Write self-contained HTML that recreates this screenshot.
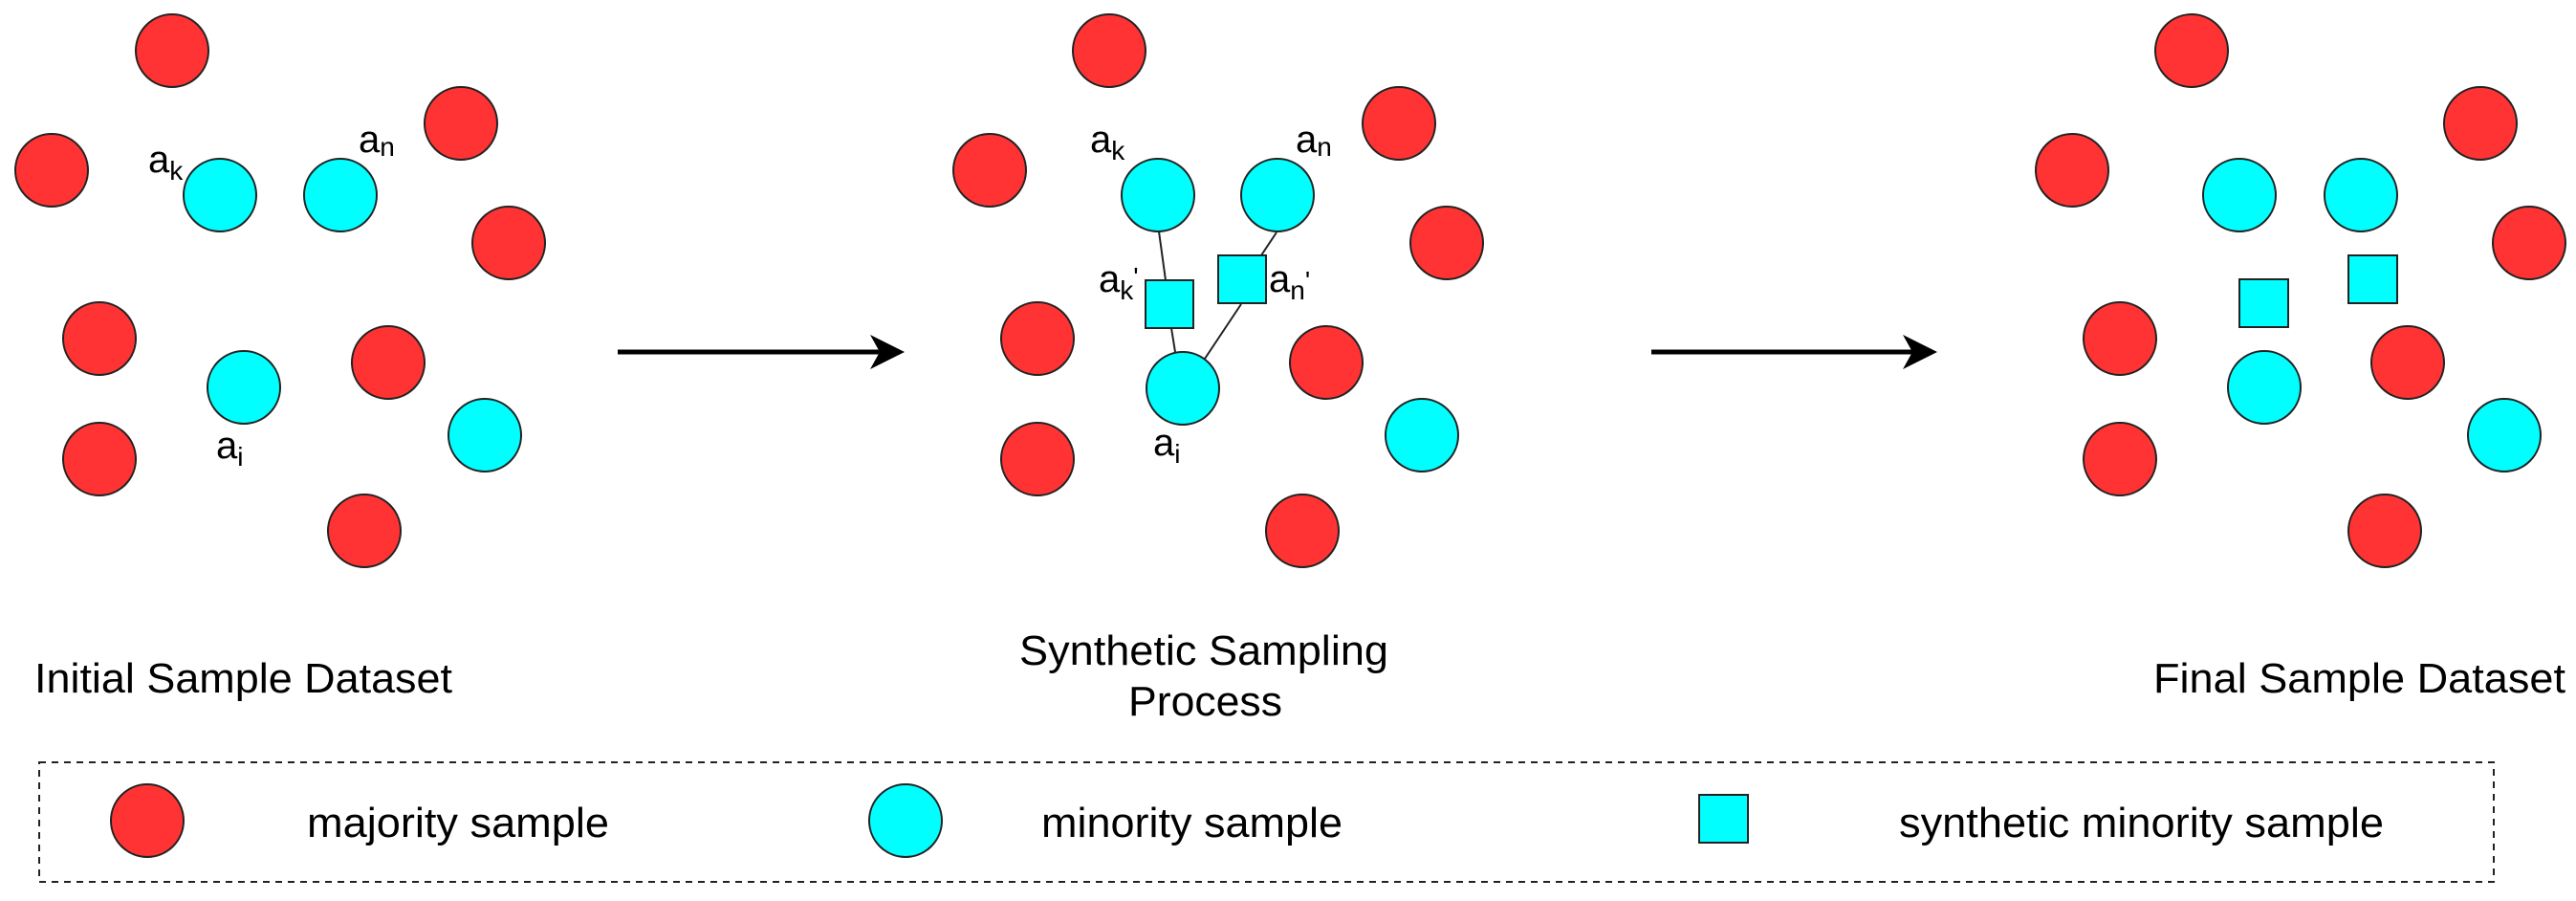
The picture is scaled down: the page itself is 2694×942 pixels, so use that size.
<!DOCTYPE html>
<html><head><meta charset="utf-8"><style>html,body{margin:0;padding:0;background:#fff}svg{display:block}</style></head>
<body>
<svg width="2694" height="942" viewBox="0 0 2694 942" xmlns="http://www.w3.org/2000/svg" font-family="Liberation Sans, Arial, sans-serif" fill="#000">
<g stroke="#222" stroke-width="2">
<!-- panel 1 -->
<g fill="#ff3333">
<circle cx="180" cy="53" r="38"/><circle cx="54" cy="178" r="38"/><circle cx="482" cy="129" r="38"/><circle cx="532" cy="254" r="38"/>
<circle cx="104" cy="354" r="38"/><circle cx="406" cy="379" r="38"/><circle cx="104" cy="480" r="38"/><circle cx="381" cy="555" r="38"/>
</g>
<g fill="#00ffff">
<circle cx="230" cy="204" r="38"/><circle cx="356" cy="204" r="38"/><circle cx="255" cy="405" r="38"/><circle cx="507" cy="455" r="38"/>
</g>
<!-- panel 2 -->
<line x1="1212" y1="242" x2="1219" y2="293"/><line x1="1225" y1="343" x2="1229" y2="368"/>
<line x1="1335" y1="243" x2="1319" y2="267"/><line x1="1298" y1="318" x2="1260" y2="375"/>
<g fill="#ff3333">
<circle cx="1160" cy="53" r="38"/><circle cx="1035" cy="178" r="38"/><circle cx="1463" cy="129" r="38"/><circle cx="1513" cy="254" r="38"/>
<circle cx="1085" cy="354" r="38"/><circle cx="1387" cy="379" r="38"/><circle cx="1085" cy="480" r="38"/><circle cx="1362" cy="555" r="38"/>
</g>
<g fill="#00ffff">
<circle cx="1211" cy="204" r="38"/><circle cx="1336" cy="204" r="38"/><circle cx="1237" cy="406" r="38"/><circle cx="1487" cy="455" r="38"/>
<rect x="1198" y="293" width="50" height="50"/><rect x="1274" y="267" width="50" height="50"/>
</g>
<!-- panel 3 -->
<g fill="#ff3333">
<circle cx="2292" cy="53" r="38"/><circle cx="2167" cy="178" r="38"/><circle cx="2594" cy="129" r="38"/><circle cx="2645" cy="254" r="38"/>
<circle cx="2217" cy="354" r="38"/><circle cx="2518" cy="379" r="38"/><circle cx="2217" cy="480" r="38"/><circle cx="2494" cy="555" r="38"/>
</g>
<g fill="#00ffff">
<circle cx="2342" cy="204" r="38"/><circle cx="2469" cy="204" r="38"/><circle cx="2368" cy="405" r="38"/><circle cx="2619" cy="455" r="38"/>
<rect x="2342" y="292" width="51" height="50"/><rect x="2456" y="267" width="51" height="50"/>
</g>
<!-- legend -->
<circle cx="154" cy="858" r="38" fill="#ff3333"/>
<circle cx="947" cy="858" r="38" fill="#00ffff"/>
<rect x="1777" y="831" width="51" height="50" fill="#00ffff"/>
</g>
<rect x="41" y="797" width="2567" height="125" fill="none" stroke="#222" stroke-width="2" stroke-dasharray="7,6"/>
<!-- arrows -->
<line x1="646" y1="368" x2="925" y2="368" stroke="#000" stroke-width="5"/>
<path d="M946 368 L910 350 L920 368 L910 386 Z"/>
<line x1="1727" y1="368" x2="2005" y2="368" stroke="#000" stroke-width="5"/>
<path d="M2026 368 L1990 350 L2000 368 L1990 386 Z"/>
<!-- point labels -->
<g font-size="40">
<text x="155" y="180">a<tspan font-size="28" dy="8">k</tspan></text>
<text x="375" y="159">a<tspan font-size="28" dy="4">n</tspan></text>
<text x="226" y="479">a<tspan font-size="28" dy="8">i</tspan></text>
<text x="1140" y="159">a<tspan font-size="28" dy="8">k</tspan></text>
<text x="1355" y="159">a<tspan font-size="28" dy="4">n</tspan></text>
<text x="1149" y="305">a<tspan font-size="28" dy="8">k</tspan><tspan dy="-14" font-size="28">'</tspan></text>
<text x="1327" y="305">a<tspan font-size="28" dy="8">n</tspan><tspan dy="-10" font-size="28">'</tspan></text>
<text x="1206" y="476">a<tspan font-size="28" dy="8">i</tspan></text>
</g>
<!-- titles -->
<g font-size="44">
<text x="36" y="724" textLength="437" lengthAdjust="spacingAndGlyphs">Initial Sample Dataset</text>
<text x="1066" y="695" textLength="386" lengthAdjust="spacingAndGlyphs">Synthetic Sampling</text>
<text x="1180" y="748" textLength="161" lengthAdjust="spacingAndGlyphs">Process</text>
<text x="2252" y="724" textLength="431" lengthAdjust="spacingAndGlyphs">Final Sample Dataset</text>
<text x="321" y="875" textLength="316" lengthAdjust="spacingAndGlyphs">majority sample</text>
<text x="1089" y="875" textLength="315" lengthAdjust="spacingAndGlyphs">minority sample</text>
<text x="1986" y="875" textLength="507" lengthAdjust="spacingAndGlyphs">synthetic minority sample</text>
</g>
</svg>
</body></html>
